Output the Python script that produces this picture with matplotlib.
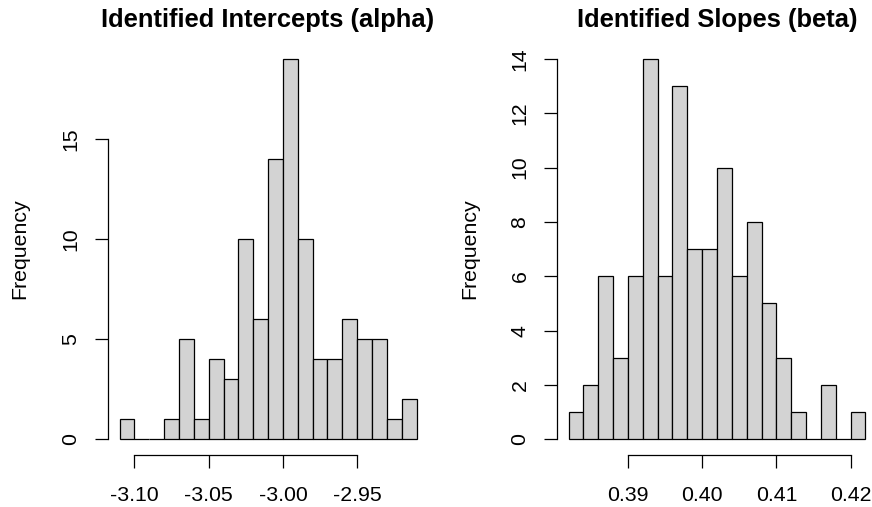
import matplotlib
matplotlib.use("Agg")
import matplotlib.pyplot as plt
import numpy as np

# ---- data ----
alpha_breaks = [-3.11, -3.10, -3.09, -3.08, -3.07, -3.06, -3.05, -3.04, -3.03, -3.02, -3.01,
                -3.00, -2.99, -2.98, -2.97, -2.96, -2.95, -2.94, -2.93, -2.92, -2.91]
alpha_counts = [1, 0, 0, 1, 5, 1, 4, 3, 10, 6, 14, 19, 10, 4, 4, 6, 5, 5, 1, 2]
alpha_xticks = [-3.10, -3.05, -3.00, -2.95]
alpha_xticklabels = ["-3.10", "-3.05", "-3.00", "-2.95"]
alpha_yticks = [0, 5, 10, 15]

beta_breaks = [0.382, 0.384, 0.386, 0.388, 0.390, 0.392, 0.394, 0.396, 0.398, 0.400, 0.402,
               0.404, 0.406, 0.408, 0.410, 0.412, 0.414, 0.416, 0.418, 0.420, 0.422]
beta_counts = [1, 2, 6, 3, 6, 14, 6, 13, 7, 7, 10, 6, 8, 5, 3, 1, 0, 2, 0, 1]
beta_xticks = [0.39, 0.40, 0.41, 0.42]
beta_xticklabels = ["0.39", "0.40", "0.41", "0.42"]
beta_yticks = [0, 2, 4, 6, 8, 10, 12, 14]

titles = ["Identified Intercepts (alpha)", "Identified Slopes (beta)"]
ylabel = "Frequency"

plt.rcParams['font.family'] = ['Liberation Sans', 'DejaVu Sans']

W, H = 872, 507
fig = plt.figure(figsize=(W / 100, H / 100), dpi=100)

LW = 0.9
BASE = 15.3
TITLE = 18.36

def px_axes(left, right, top, bottom):
    return [left / W, (H - bottom) / H, (right - left) / W, (bottom - top) / H]

def r_hist(ax, breaks, counts, xticks, xlabels, yticks, title):
    breaks = np.asarray(breaks)
    ax.bar(breaks[:-1], counts, width=np.diff(breaks), align='edge',
           color='#D3D3D3', edgecolor='black', linewidth=LW)
    xr = breaks[-1] - breaks[0]
    ax.set_xlim(breaks[0] - 0.04 * xr, breaks[-1] + 0.04 * xr)
    ymax = max(counts)
    ax.set_ylim(-0.04 * ymax, ymax * 1.04)
    for s in ['top', 'right']:
        ax.spines[s].set_visible(False)
    ax.spines['left'].set_bounds(yticks[0], yticks[-1])
    ax.spines['bottom'].set_bounds(xticks[0], xticks[-1])
    for s in ['left', 'bottom']:
        ax.spines[s].set_linewidth(LW)
    ax.set_xticks(xticks)
    ax.set_xticklabels(xlabels)
    ax.set_yticks(yticks)
    ax.set_yticklabels([str(v) for v in yticks], rotation=90, va='center')
    ax.tick_params(axis='both', direction='out', length=9.1, width=LW,
                   labelsize=BASE, colors='black')
    ax.tick_params(axis='x', pad=13.2)
    ax.tick_params(axis='y', pad=10.5)
    ax.set_title(title, fontsize=TITLE, fontweight='bold', pad=12.2)
    ax.set_ylabel(ylabel, fontsize=BASE)
    ax.patch.set_visible(False)

ax1 = fig.add_axes(px_axes(107.7, 428.4, 43.6, 454.6))
r_hist(ax1, alpha_breaks, alpha_counts, alpha_xticks, alpha_xticklabels, alpha_yticks, titles[0])
ax1.yaxis.set_label_coords((29 - 107.7) / 320.7, 0.5)

ax2 = fig.add_axes(px_axes(556.7, 877.3, 43.6, 454.6))
r_hist(ax2, beta_breaks, beta_counts, beta_xticks, beta_xticklabels, beta_yticks, titles[1])
ax2.yaxis.set_label_coords((479 - 556.7) / 320.6, 0.5)

fig.savefig("out.png", dpi=100)
